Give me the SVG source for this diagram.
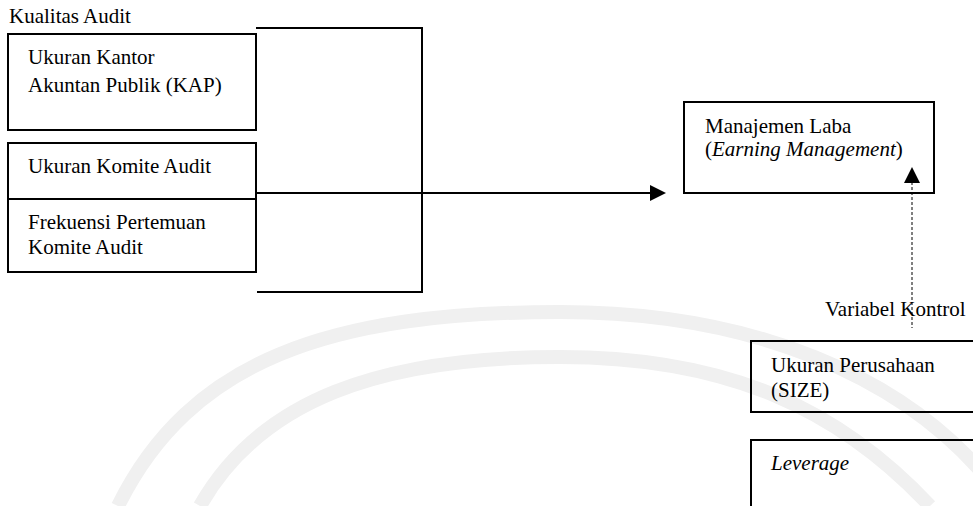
<svg xmlns="http://www.w3.org/2000/svg" width="973" height="506" viewBox="0 0 973 506">
<style>
.t{font-family:'Times New Roman','Liberation Serif',serif;font-size:21px;fill:#000}
.i{font-style:italic}
.box{fill:none;stroke:#000;stroke-width:2}
.ln{fill:none;stroke:#000;stroke-width:2}
.wm{fill:none;stroke:#f0f0f0;stroke-width:14}
</style>
<rect width="973" height="506" fill="#fff"/>
<g id="watermark">
<path class="wm" d="M118,506 C190,360 330,312 560,312 C760,312 900,380 980,470"/>
<path class="wm" d="M200,506 C260,400 380,357 560,357 C730,357 840,410 930,506"/>
</g>
<g id="kualitas-audit">
<text x="9" y="23" class="t">Kualitas Audit</text>
</g>
<g id="ukuran-kap">
<rect class="box" x="8" y="34" width="248" height="96"/>
<text x="28" y="64" class="t">Ukuran Kantor</text>
<text x="28" y="92" class="t">Akuntan Publik (KAP)</text>
</g>
<g id="ukuran-komite">
<rect class="box" x="8" y="143" width="248" height="56"/>
<text x="28" y="173" class="t">Ukuran Komite Audit</text>
</g>
<g id="frekuensi">
<rect class="box" x="8" y="199" width="248" height="73"/>
<text x="28" y="229" class="t">Frekuensi Pertemuan</text>
<text x="28" y="254" class="t">Komite Audit</text>
</g>
<g id="manajemen-laba">
<rect class="box" x="684" y="102" width="250" height="91"/>
<text x="705" y="133" class="t">Manajemen Laba</text>
<text x="705" y="156" class="t">(<tspan class="i">Earning Management</tspan>)</text>
</g>
<g id="variabel-kontrol">
<text x="825" y="316" class="t">Variabel Kontrol</text>
</g>
<g id="ukuran-perusahaan">
<rect class="box" x="751" y="341" width="240" height="71"/>
<text x="771" y="372" class="t">Ukuran Perusahaan</text>
<text x="771" y="397" class="t">(SIZE)</text>
</g>
<g id="leverage">
<rect class="box" x="751" y="440" width="240" height="90"/>
<text x="771" y="470" class="t i">Leverage</text>
</g>
<g id="connectors">
<path class="ln" d="M256,28 H422 V292 H257"/>
<path class="ln" d="M256,193 H652"/>
<polygon points="650,185 666,193 650,201" fill="#000"/>
<line x1="912" y1="182" x2="912" y2="328" stroke="#000" stroke-width="1" stroke-dasharray="3,2"/>
<polygon points="912,167 904,183 920,183" fill="#000"/>
</g>
</svg>
